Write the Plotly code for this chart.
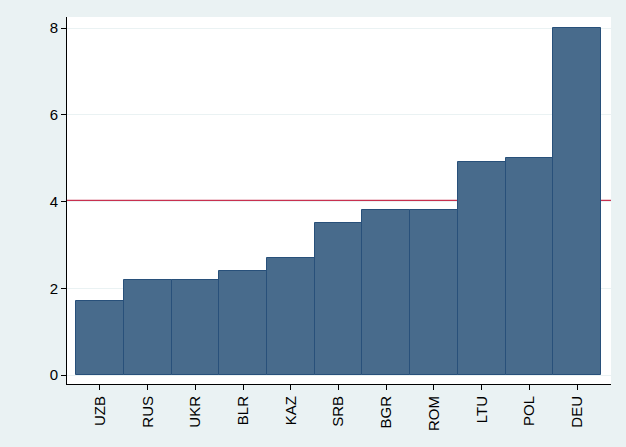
import plotly.graph_objects as go

countries = ["UZB", "RUS", "UKR", "BLR", "KAZ", "SRB", "BGR", "ROM", "LTU", "POL", "DEU"]
values = [1.7, 2.2, 2.2, 2.4, 2.7, 3.5, 3.8, 3.8, 4.9, 5.0, 8.0]
ref_value = 4.02
y_ticks = [0, 2, 4, 6, 8]

fig = go.Figure()
fig.add_trace(go.Bar(
    x=list(range(len(countries))), y=values, width=1.0,
    marker=dict(color="#486b8c", line=dict(color="#28507a", width=1)),
    showlegend=False,
))
fig.add_shape(type="line", xref="paper", x0=0, x1=1, yref="y", y0=ref_value, y1=ref_value,
              line=dict(color="#c8304f", width=2), layer="below")

fig.update_layout(
    width=626, height=447,
    margin=dict(l=67, r=15, t=17, b=63),
    paper_bgcolor="#eaf2f3", plot_bgcolor="white",
    font=dict(family="Liberation Sans, Arial", size=15, color="black"),
    bargap=0,
)
fig.update_xaxes(
    range=[-0.69, 10.71], tickmode="array", tickvals=list(range(len(countries))),
    ticktext=countries, tickangle=-90, ticks="outside", ticklen=5, tickcolor="black",
    showline=True, linecolor="black", linewidth=1, showgrid=False, zeroline=False,
)
fig.update_yaxes(
    range=[-0.207, 8.254], tickmode="array", tickvals=y_ticks, ticks="outside",
    ticklen=5, tickcolor="black", showline=True, linecolor="black", linewidth=1,
    showgrid=True, gridcolor="#eaf2f3", gridwidth=1, zeroline=False,
)
fig.write_html("out.html", config={"displayModeBar": False},
               post_script="document.body.style.margin='0';document.body.style.padding='0';")
